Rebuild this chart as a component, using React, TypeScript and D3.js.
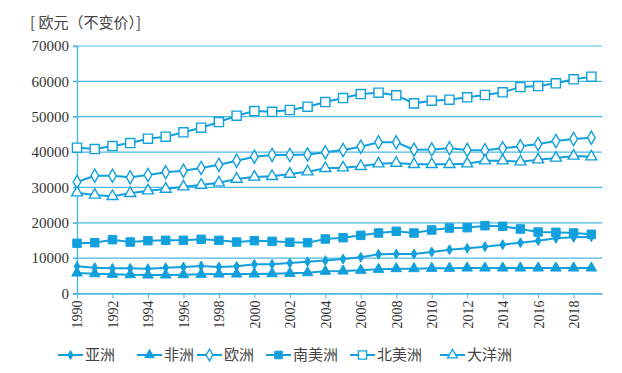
import React, { useEffect, useRef } from 'react';
import * as d3 from 'd3';

const years = d3.range(1990, 2020);
const seriesNames = ['亚洲', '非洲', '欧洲', '南美洲', '北美洲', '大洋洲'];

const asia = [7690, 7300, 7120, 7120, 7030, 7300, 7490, 7780, 7490, 7690, 8250, 8250, 8630, 9000, 9300, 9750, 10240, 11080, 11170, 11170, 11740, 12390, 12780, 13240, 13800, 14370, 14940, 15600, 15890, 16060];
const africa = [5800, 5600, 5430, 5320, 5230, 5230, 5320, 5430, 5510, 5510, 5510, 5600, 5700, 5880, 6280, 6360, 6560, 6840, 7030, 7030, 7120, 7120, 7210, 7210, 7210, 7210, 7210, 7210, 7210, 7210];
const europe = [31530, 33320, 33300, 32860, 33510, 34270, 34730, 35490, 36430, 37560, 38690, 39170, 39170, 39300, 39930, 40580, 41520, 42760, 42760, 40670, 40760, 41060, 40580, 40500, 41060, 41630, 42280, 43130, 43690, 44060];
const southAmerica = [14190, 14380, 15220, 14560, 14940, 15030, 15030, 15320, 15030, 14560, 14940, 14750, 14480, 14380, 15410, 15790, 16450, 17110, 17580, 17110, 17960, 18520, 18620, 19170, 19000, 18240, 17390, 17300, 17110, 16740];
const northAmerica = [41230, 40860, 41700, 42560, 43780, 44350, 45580, 46900, 48500, 50290, 51600, 51400, 51900, 52830, 54150, 55290, 56420, 56800, 56050, 53780, 54530, 54810, 55490, 56140, 56900, 58400, 58680, 59440, 60570, 61310];
const oceania = [28510, 27860, 27490, 28340, 29070, 29550, 30200, 30680, 31330, 32380, 32950, 33140, 33790, 34450, 35400, 35580, 35970, 36710, 36900, 36540, 36540, 36540, 36710, 37560, 37560, 37270, 37840, 38320, 38890, 38690];

const allSeries = [asia, africa, europe, southAmerica, northAmerica, oceania];
const yTicks = [0, 10000, 20000, 30000, 40000, 50000, 60000, 70000];
const xTicks = d3.range(1990, 2020, 2);
const unitLabel = '[ 欧元（不变价）]';

const BLUE = '#12a0dd';
const GRID = '#4cb8e2';

// marker style per series: shape, size, filled
const markers = [
    { type: d3.symbolDiamond, size: 28, filled: true },
    { type: d3.symbolTriangle, size: 48, filled: true },
    { type: d3.symbolDiamond, size: 50, filled: false },
    { type: d3.symbolSquare, size: 72, filled: true },
    { type: d3.symbolSquare, size: 84, filled: false },
    { type: d3.symbolTriangle, size: 52, filled: false },
];

export default function App() {
    const ref = useRef<SVGSVGElement>(null);

    useEffect(() => {
        const svg = d3.select(ref.current);
        svg.selectAll('*').remove();

        const left = 77, right = 602, top = 46, bottom = 293.5;

        const x = d3.scaleLinear().domain([1990, 2019.6]).range([left, right]);
        const y = d3.scaleLinear().domain([0, 70000]).range([bottom, top]);

        // unit label
        svg.append('text')
            .attr('x', 30)
            .attr('y', 28)
            .attr('font-family', '"Noto Sans CJK SC"')
            .attr('font-size', 15)
            .attr('fill', '#444')
            .text(unitLabel);

        // gridlines
        svg.append('g').selectAll('line')
            .data(yTicks)
            .join('line')
            .attr('x1', left - 4)
            .attr('x2', right)
            .attr('y1', d => y(d))
            .attr('y2', d => y(d))
            .attr('stroke', GRID)
            .attr('stroke-width', 1.2);

        // y axis
        const yAxis = svg.append('g')
            .attr('transform', `translate(${left},0)`)
            .call(d3.axisLeft(y).tickValues(yTicks).tickSize(4).tickPadding(4).tickFormat(d3.format('d')));
        yAxis.select('.domain').attr('stroke', GRID).attr('stroke-width', 1.4);
        yAxis.selectAll('line').attr('stroke', GRID);
        yAxis.selectAll('text')
            .attr('font-family', '"Liberation Serif"')
            .attr('font-size', 15)
            .attr('fill', '#333');

        // x axis
        const xAxis = svg.append('g')
            .attr('transform', `translate(0,${bottom})`)
            .call(d3.axisBottom(x).tickValues(xTicks).tickSize(5).tickPadding(6).tickFormat(d3.format('d')).tickSizeOuter(0));
        xAxis.select('.domain').attr('stroke', GRID).attr('stroke-width', 1.4);
        xAxis.selectAll('line').attr('stroke', GRID);
        xAxis.selectAll('text')
            .attr('font-family', '"Liberation Serif"')
            .attr('font-size', 14)
            .attr('fill', '#333')
            .attr('text-anchor', 'end')
            .attr('transform', 'rotate(-90)')
            .attr('x', -7)
            .attr('y', 0)
            .attr('dy', '0.35em');

        const line = d3.line<number>()
            .x((d, i) => x(years[i]))
            .y(d => y(d));

        allSeries.forEach((vals, s) => {
            const g = svg.append('g');
            g.append('path')
                .datum(vals)
                .attr('fill', 'none')
                .attr('stroke', BLUE)
                .attr('stroke-width', 2)
                .attr('d', line);
            const m = markers[s];
            const sym = d3.symbol().type(m.type).size(m.size);
            g.selectAll('path.pt')
                .data(vals)
                .join('path')
                .attr('class', 'pt')
                .attr('transform', (d, i) => `translate(${x(years[i])},${y(d)})`)
                .attr('d', sym)
                .attr('fill', m.filled ? BLUE : '#fff')
                .attr('stroke', BLUE)
                .attr('stroke-width', m.filled ? 1 : 1.4);
        });

        // legend
        const legendX = [58, 137, 197, 266, 350, 440];
        const legendY = 355;
        seriesNames.forEach((name, s) => {
            const g = svg.append('g').attr('transform', `translate(${legendX[s]},${legendY})`);
            g.append('line')
                .attr('x1', 0).attr('x2', 25)
                .attr('stroke', BLUE).attr('stroke-width', 2);
            const m = markers[s];
            g.append('path')
                .attr('transform', 'translate(12.5,0)')
                .attr('d', d3.symbol().type(m.type).size(m.size * 0.8)())
                .attr('fill', m.filled ? BLUE : '#fff')
                .attr('stroke', BLUE)
                .attr('stroke-width', m.filled ? 1 : 1.3);
            g.append('text')
                .attr('x', 27)
                .attr('dy', '0.35em')
                .attr('font-family', '"Noto Sans CJK SC"')
                .attr('font-size', 15)
                .attr('fill', '#444')
                .text(name);
        });
    }, []);

    return (
        <svg ref={ref} width={622} height={373} style={{ position: 'absolute', left: 0, top: 0, background: '#fff' }} />
    );
}
